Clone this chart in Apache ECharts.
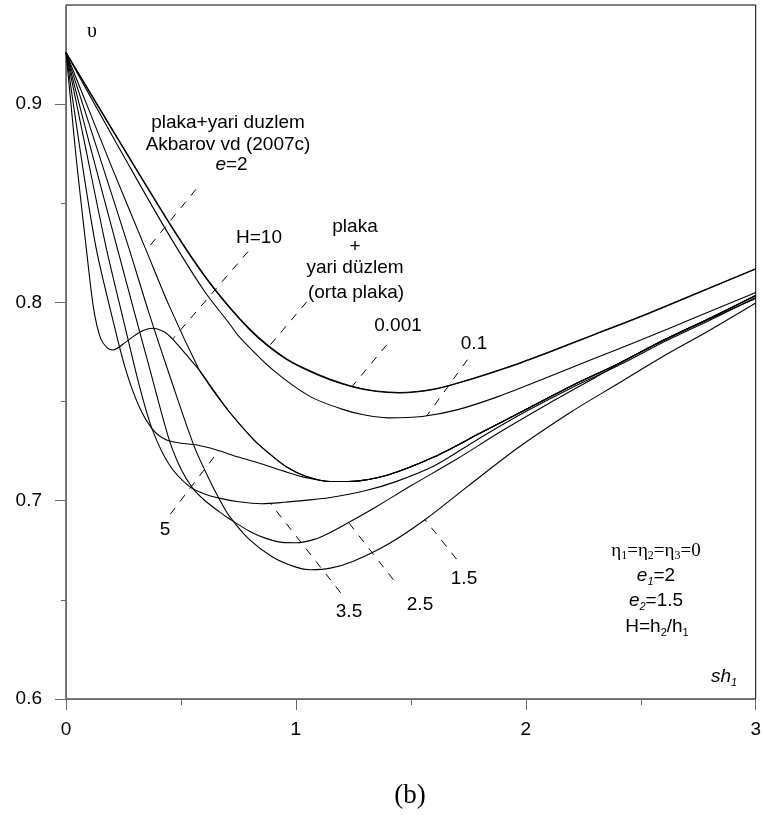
<!DOCTYPE html>
<html><head><meta charset="utf-8">
<script src="https://cdn.jsdelivr.net/npm/echarts@6/dist/echarts.min.js"></script>
<style>html,body{margin:0;padding:0;background:#fff}#c{width:764px;height:827px}</style>
</head><body><div id="c"></div>
<script>
// ---- axis ticks ----
const xMajorTicks = [0, 1, 2, 3];
const xMinorTicks = [0.5, 1.5, 2.5];
const yMajorTicks = [0.6, 0.7, 0.8, 0.9];
const yMinorTicks = [0.65, 0.75, 0.85];

// ---- curves [sh1, v] ----
const curveOrtaPlaka = [[0,0.926],[0.11,0.905],[0.25,0.878],[0.467,0.837],[0.6,0.814],[0.709,0.798],[0.8,0.7865],[0.882,0.778],[0.96,0.7715],[1.042,0.7665],[1.15,0.7612],[1.251,0.7575],[1.35,0.7553],[1.45,0.7546],[1.6,0.7563],[1.75,0.761],[1.922,0.7674],[2.1,0.775],[2.3,0.784],[2.5,0.793],[2.75,0.805],[3,0.817]];
const curveH0001 = [[0,0.926],[0.11,0.9045],[0.25,0.8776],[0.467,0.8366],[0.6,0.8136],[0.709,0.7976],[0.8,0.7861],[0.882,0.7776],[0.96,0.7712],[1.042,0.7662],[1.15,0.7609],[1.251,0.7573],[1.35,0.7551],[1.45,0.7544],[1.6,0.7561],[1.75,0.7608],[1.922,0.7672],[2.1,0.7748],[2.3,0.7838],[2.5,0.7928],[2.75,0.8048],[3,0.8168]];
const curveH01 = [[0,0.926],[0.11,0.903],[0.25,0.874],[0.435,0.8366],[0.6,0.806],[0.709,0.7896],[0.753,0.7828],[0.9,0.766],[1.063,0.7525],[1.2,0.7462],[1.3,0.7432],[1.4,0.7418],[1.55,0.7425],[1.7,0.7458],[1.879,0.7525],[2.1,0.7625],[2.3,0.7718],[2.5,0.781],[2.75,0.793],[3,0.805]];
const curveAkbarov = [[0,0.926],[0.1,0.897],[0.2,0.868],[0.348,0.8265],[0.45,0.798],[0.579,0.766],[0.608,0.761],[0.637,0.756],[0.709,0.745],[0.817,0.7307],[0.882,0.724],[0.96,0.717],[1.04,0.7125],[1.15,0.7097],[1.229,0.7097],[1.4,0.713],[1.6,0.722],[1.8,0.734],[2.0,0.746],[2.2,0.758],[2.4,0.769],[2.6,0.781],[2.8,0.792],[3.0,0.8035]];
const curveH10 = [[0,0.926],[0.02,0.902],[0.045,0.872],[0.089,0.8265],[0.12,0.797],[0.15,0.782],[0.18,0.777],[0.204,0.776],[0.26,0.780],[0.32,0.785],[0.377,0.787],[0.43,0.785],[0.464,0.7815],[0.52,0.774],[0.579,0.766],[0.637,0.7565],[0.709,0.745],[0.817,0.7307],[0.882,0.724],[0.96,0.717],[1.04,0.7125],[1.15,0.7097],[1.229,0.7097],[1.4,0.713],[1.6,0.722],[1.8,0.734],[2.0,0.746],[2.2,0.758],[2.4,0.769],[2.6,0.781],[2.8,0.792],[3.0,0.8035]];
const curveH5 = [[0,0.926],[0.06,0.878],[0.13,0.828],[0.2,0.793],[0.26,0.766],[0.32,0.747],[0.377,0.736],[0.435,0.7307],[0.5,0.729],[0.565,0.7282],[0.652,0.7257],[0.75,0.722],[0.839,0.719],[0.95,0.7148],[1.05,0.7115],[1.15,0.7097],[1.229,0.7097],[1.4,0.713],[1.6,0.722],[1.8,0.734],[2.0,0.746],[2.2,0.758],[2.4,0.769],[2.6,0.781],[2.8,0.792],[3.0,0.8035]];
const curveH35 = [[0,0.926],[0.08,0.881],[0.175,0.8275],[0.25,0.791],[0.319,0.758],[0.376,0.7357],[0.45,0.718],[0.536,0.7072],[0.6,0.7035],[0.666,0.7013],[0.75,0.6995],[0.85,0.6985],[0.95,0.6992],[1.05,0.7003],[1.143,0.7015],[1.3,0.705],[1.432,0.7095],[1.6,0.7175],[1.75,0.728],[1.879,0.737],[2.0,0.745],[2.2,0.757],[2.4,0.768],[2.6,0.780],[2.8,0.791],[3.0,0.8025]];
const curveH25 = [[0,0.926],[0.1,0.881],[0.225,0.8265],[0.3,0.794],[0.363,0.767],[0.449,0.7307],[0.5,0.716],[0.55,0.7065],[0.6,0.7005],[0.666,0.6945],[0.709,0.691],[0.8,0.6845],[0.87,0.681],[0.94,0.679],[1.0,0.6788],[1.08,0.6805],[1.15,0.684],[1.229,0.689],[1.35,0.697],[1.5,0.7075],[1.7,0.721],[1.879,0.734],[2.1,0.749],[2.3,0.762],[2.5,0.775],[2.75,0.789],[3,0.802]];
const curveH15 = [[0,0.926],[0.12,0.883],[0.276,0.8265],[0.36,0.795],[0.457,0.761],[0.558,0.7273],[0.62,0.7115],[0.666,0.701],[0.709,0.6925],[0.797,0.6805],[0.9,0.6715],[1.0,0.6665],[1.063,0.6652],[1.15,0.666],[1.25,0.6695],[1.4,0.678],[1.561,0.6904],[1.75,0.7075],[1.966,0.7267],[2.2,0.745],[2.4,0.759],[2.6,0.773],[2.8,0.786],[3,0.7997]];

// ---- dashed leader lines (data coords) ----
const leaderAkbarov = [[0.565,0.857],[0.348,0.8262]];
const leaderH10 = [[0.792,0.8257],[0.464,0.7815]];
const leaderOrta = [[1.047,0.8003],[0.8826,0.7778]];
const leader0001 = [[1.395,0.7786],[1.2435,0.7575]];
const leader01 = [[1.746,0.7711],[1.5685,0.7427]];
const leader5 = [[0.4537,0.6932],[0.6664,0.7255]];
const leader35 = [[1.1945,0.6536],[0.89,0.6985]];
const leader25 = [[1.4242,0.6601],[1.2292,0.689]];
const leader15 = [[1.6985,0.6706],[1.5615,0.6904]];

const curves = [curveOrtaPlaka, curveH0001, curveH01, curveAkbarov, curveH10, curveH5, curveH35, curveH25, curveH15];
const leaders = [leaderAkbarov, leaderH10, leaderOrta, leader0001, leader01, leader5, leader35, leader25, leader15];

const SANS = "'Liberation Sans', Arial, sans-serif";
const SERIF = "'Liberation Serif', 'Times New Roman', serif";
const FS = 19;
const axisGray = '#6a6a6a';

const chart = echarts.init(document.getElementById('c'), null, {renderer: 'canvas'});

const series = [];
curves.forEach(c => series.push({
  type: 'line', data: c, showSymbol: false, smooth: 0.3,
  lineStyle: {color: '#000', width: 1.1}, silent: true, z: 3
}));
leaders.forEach(l => series.push({
  type: 'line', data: l, showSymbol: false,
  lineStyle: {color: '#000', width: 1, type: [8, 8]}, silent: true, z: 3
}));

function txt(x, y, text, extra) {
  return {type: 'text', x: x, y: y, silent: true, z: 10,
    style: Object.assign({text: text, fill: '#000', fontSize: FS, fontFamily: SANS,
      align: 'center', verticalAlign: 'middle'}, extra || {})};
}
const subStyle = {fontSize: 11, fontFamily: SANS, verticalAlign: 'bottom', lineHeight: 12};

const graphics = [
  txt(92, 32, 'υ', {fontFamily: SERIF, fontSize: 20}),
  txt(228, 122.5, 'plaka+yari duzlem'),
  txt(228, 145, 'Akbarov vd (2007c)'),
  txt(231.5, 165, '{i|e}=2', {rich: {i: {fontStyle: 'italic', fontSize: FS, fontFamily: SANS}}}),
  txt(259, 238, 'H=10'),
  txt(355, 227, 'plaka'),
  txt(355, 247, '+'),
  txt(355, 268, 'yari düzlem'),
  txt(356, 293, '(orta plaka)'),
  txt(398, 326, '0.001'),
  txt(474, 344, '0.1'),
  txt(165, 530, '5'),
  txt(464, 579, '1.5'),
  txt(420, 605, '2.5'),
  txt(349, 612, '3.5'),
  txt(656, 551, '{g|η}{s|1}{g|=η}{s|2}{g|=η}{s|3}{g|=0}', {rich: {
    g: {fontFamily: SERIF, fontSize: 19, lineHeight: 22},
    s: {fontFamily: SERIF, fontSize: 12, verticalAlign: 'bottom', lineHeight: 12}}}),
  txt(656, 576, '{i|e}{is|1}{n|=2}', {rich: {
    i: {fontStyle: 'italic', fontSize: FS, fontFamily: SANS, lineHeight: 22},
    is: {fontStyle: 'italic', fontSize: 11, fontFamily: SANS, verticalAlign: 'bottom', lineHeight: 12},
    n: {fontSize: FS, fontFamily: SANS, lineHeight: 22}}}),
  txt(656, 601, '{i|e}{is|2}{n|=1.5}', {rich: {
    i: {fontStyle: 'italic', fontSize: FS, fontFamily: SANS, lineHeight: 22},
    is: {fontStyle: 'italic', fontSize: 11, fontFamily: SANS, verticalAlign: 'bottom', lineHeight: 12},
    n: {fontSize: FS, fontFamily: SANS, lineHeight: 22}}}),
  txt(657, 627, '{n|H=h}{s|2}{n|/h}{s|1}', {rich: {
    n: {fontSize: FS, fontFamily: SANS, lineHeight: 22},
    s: subStyle}}),
  txt(724, 677, '{i|sh}{is|1}', {rich: {
    i: {fontStyle: 'italic', fontSize: FS, fontFamily: SANS, lineHeight: 22},
    is: {fontStyle: 'italic', fontSize: 11, fontFamily: SANS, verticalAlign: 'bottom', lineHeight: 12}}}),
  txt(410, 796, '(b)', {fontFamily: SERIF, fontSize: 27})
];

const option = {
  animation: false,
  backgroundColor: '#fff',
  grid: {left: 66, right: 5, top: 5, bottom: 128, show: true, borderColor: '#000', borderWidth: 1, backgroundColor: 'transparent'},
  xAxis: [
    {type: 'value', min: 0, max: 3, position: 'bottom',
     axisLine: {show: true, onZero: false, lineStyle: {color: axisGray, width: 1}},
     axisTick: {show: true, customValues: xMajorTicks, length: 11, lineStyle: {color: axisGray}},
     axisLabel: {show: true, customValues: xMajorTicks, margin: 21, color: '#000', fontSize: FS, fontFamily: SANS,
       formatter: v => String(Math.round(v))},
     splitLine: {show: false}},
    {type: 'value', min: 0, max: 3, position: 'bottom',
     axisLine: {show: false},
     axisTick: {show: true, customValues: xMinorTicks, length: 6, lineStyle: {color: axisGray}},
     axisLabel: {show: false}, splitLine: {show: false}}
  ],
  yAxis: [
    {type: 'value', min: 0.6, max: 0.95, position: 'left',
     axisLine: {show: true, onZero: false, lineStyle: {color: axisGray, width: 1}},
     axisTick: {show: true, customValues: yMajorTicks, length: 11, lineStyle: {color: axisGray}},
     axisLabel: {show: true, customValues: yMajorTicks, margin: 24, color: '#000', fontSize: FS, fontFamily: SANS,
       formatter: v => v.toFixed(1)},
     splitLine: {show: false}},
    {type: 'value', min: 0.6, max: 0.95, position: 'left',
     axisLine: {show: false},
     axisTick: {show: true, customValues: yMinorTicks, length: 5, lineStyle: {color: axisGray}},
     axisLabel: {show: false}, splitLine: {show: false}}
  ],
  series: series,
  graphic: graphics
};
chart.setOption(option);
</script>
</body></html>
